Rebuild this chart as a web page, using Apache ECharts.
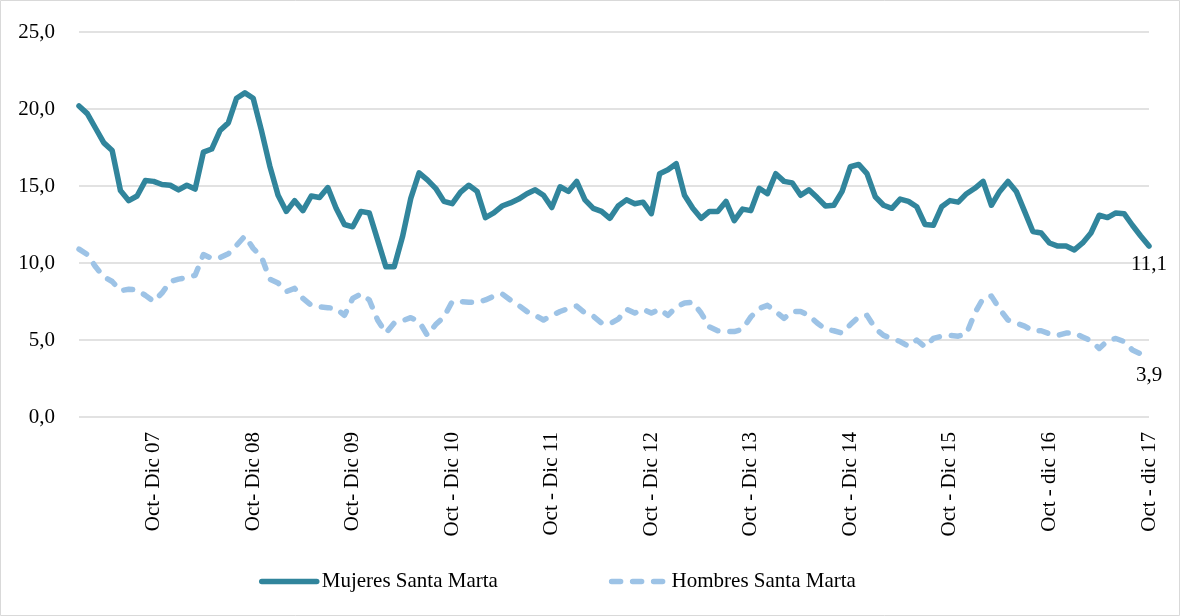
<!DOCTYPE html>
<html>
<head>
<meta charset="utf-8">
<script src="https://cdn.jsdelivr.net/npm/echarts@6/dist/echarts.min.js"></script>
<style>
  html, body { margin: 0; padding: 0; background: #fff; }
  #chart { width: 1180px; height: 616px; }
</style>
</head>
<body>
<div id="chart"></div>
<script>
// Rolling quarters, Ene-Mar 07 .. Oct-Dic 17 (130 points)
var quarterNames = ['Ene - Mar', 'Feb - Abr', 'Mar - May', 'Abr - Jun', 'May - Jul', 'Jun - Ago',
    'Jul - Sep', 'Ago - Oct', 'Sep - Nov', 'Oct - Dic', 'Nov - Ene', 'Dic - Feb'];
var yearSuffixes = ['07', '08', '09', '10', '11', '12', '13', '14', '15', '16', '17'];
// Labels shown under the axis (one per Oct-Dic quarter)
var tickLabels = ['Oct- Dic 07', 'Oct- Dic 08', 'Oct- Dic 09', 'Oct - Dic 10', 'Oct - Dic 11',
    'Oct - Dic 12', 'Oct - Dic 13', 'Oct - Dic 14', 'Oct - Dic 15', 'Oct - dic 16', 'Oct - dic 17'];

var mujeres = [
    20.2, 19.7, 18.75, 17.8, 17.3, 14.7, 14.05, 14.35, 15.35, 15.3, 15.1, 15.05,
    14.75, 15.05, 14.8, 17.2, 17.4, 18.6, 19.1, 20.7, 21.05, 20.7, 18.6, 16.3,
    14.4, 13.35, 14.05, 13.4, 14.35, 14.25, 14.9, 13.55, 12.5, 12.35, 13.35, 13.25,
    11.5, 9.75, 9.75, 11.7, 14.2, 15.85, 15.4, 14.85, 14.0, 13.85, 14.6, 15.05,
    14.65, 12.95, 13.25, 13.7, 13.9, 14.15, 14.5, 14.75, 14.4, 13.6, 14.95, 14.65,
    15.3, 14.1, 13.55, 13.35, 12.9, 13.7, 14.1, 13.85, 13.95, 13.2, 15.8, 16.05,
    16.45, 14.4, 13.55, 12.9, 13.35, 13.35, 14.0, 12.75, 13.5, 13.4, 14.85, 14.5,
    15.8, 15.3, 15.2, 14.4, 14.75, 14.25, 13.7, 13.75, 14.65, 16.25, 16.4, 15.8,
    14.3, 13.75, 13.55, 14.15, 14.0, 13.65, 12.5, 12.45, 13.65, 14.05, 13.95, 14.5,
    14.85, 15.3, 13.75, 14.65, 15.3, 14.65, 13.35, 12.05, 11.95, 11.3, 11.1, 11.1,
    10.85, 11.3, 11.95, 13.1, 12.95, 13.25, 13.2, 12.45, 11.75, 11.1
];

var hombres = [
    10.9, 10.55, 9.75, 9.1, 8.8, 8.2, 8.3, 8.25, 7.9, 7.5, 8.05, 8.8,
    8.95, 9.05, 9.2, 10.55, 10.3, 10.35, 10.6, 11.15, 11.75, 10.95, 10.4, 8.95,
    8.7, 8.15, 8.35, 7.7, 7.25, 7.15, 7.1, 7.05, 6.6, 7.7, 8.0, 7.6,
    6.3, 5.45, 6.1, 6.25, 6.45, 6.2, 5.3, 6.0, 6.5, 7.5, 7.5, 7.45,
    7.45, 7.6, 7.85, 8.0, 7.6, 7.25, 6.85, 6.6, 6.3, 6.6, 6.85, 7.05,
    7.2, 6.75, 6.55, 6.1, 6.05, 6.35, 7.0, 6.75, 7.0, 6.75, 7.0, 6.6,
    7.15, 7.4, 7.45, 6.75, 5.85, 5.6, 5.55, 5.55, 5.7, 6.5, 7.05, 7.25,
    6.85, 6.4, 6.85, 6.85, 6.6, 6.1, 5.7, 5.6, 5.45, 6.0, 6.5, 6.6,
    5.75, 5.3, 5.1, 4.9, 4.6, 5.0, 4.55, 5.1, 5.25, 5.3, 5.25, 5.4,
    6.75, 7.7, 7.85, 7.0, 6.3, 6.1, 5.9, 5.6, 5.6, 5.4, 5.3, 5.45,
    5.45, 5.2, 4.95, 4.45, 4.95, 5.1, 4.9, 4.35, 4.1, 3.9
];

var fontFamily = '"Palatino Linotype", "Book Antiqua", Palatino, "Liberation Serif", serif';

// Category names; the Oct-Dic quarters take their printed label
var categories = mujeres.map(function (v, i) {
    var q = i % 12;
    var y = Math.floor(i / 12);
    if (q === 9) return tickLabels[y];
    return quarterNames[q] + ' ' + yearSuffixes[y];
});

function commaFmt(v) {
    return Number(v).toFixed(1).replace('.', ',');
}

// Value label under the last point of a series
function endValueLabel() {
    return {
        show: true,
        formatter: function (p) { return commaFmt(p.value); },
        color: '#000',
        fontFamily: fontFamily,
        fontSize: 21,
        align: 'center',
        verticalAlign: 'top',
        distance: 0,
        offset: [0, 8]
    };
}

var chart = echarts.init(document.getElementById('chart'));

chart.setOption({
    animation: false,
    backgroundColor: '#fff',
    textStyle: { fontFamily: fontFamily },
    grid: {
        left: 79,
        right: 31,
        top: 32,
        bottom: 199,
        containLabel: false
    },
    graphic: [
        {
            type: 'rect',
            shape: { x: 0.5, y: 0.5, width: 1179, height: 615 },
            style: { fill: null, stroke: '#d9d9d9', lineWidth: 1 },
            silent: true
        }
    ],
    legend: {
        left: 254,
        top: 566,
        itemWidth: 55,
        itemHeight: 14,
        itemGap: 111,
        itemStyle: { opacity: 0 },
        lineStyle: { width: 5.5, cap: 'round' },
        textStyle: {
            color: '#000',
            fontFamily: fontFamily,
            fontSize: 21
        },
        data: ['Mujeres Santa Marta', 'Hombres Santa Marta']
    },
    xAxis: {
        type: 'category',
        boundaryGap: false,
        data: categories,
        axisLine: { show: false },
        axisTick: { show: false },
        splitLine: { show: false },
        axisLabel: {
            rotate: 90,
            margin: 15,
            color: '#000',
            fontFamily: fontFamily,
            fontSize: 21,
            interval: function (index) {
                return index % 12 === 9;
            }
        }
    },
    yAxis: {
        type: 'value',
        min: 0,
        max: 25,
        interval: 5,
        axisLine: { show: false },
        axisTick: { show: false },
        splitLine: {
            show: true,
            lineStyle: { color: '#d9d9d9', width: 1.5 }
        },
        axisLabel: {
            margin: 24,
            color: '#000',
            fontFamily: fontFamily,
            fontSize: 21,
            formatter: commaFmt
        }
    },
    series: [
        {
            name: 'Mujeres Santa Marta',
            type: 'line',
            data: mujeres,
            symbol: 'none',
            color: '#31859c',
            lineStyle: {
                color: '#31859c',
                width: 5.5,
                cap: 'round',
                join: 'round'
            },
            endLabel: endValueLabel(),
            z: 3
        },
        {
            name: 'Hombres Santa Marta',
            type: 'line',
            data: hombres,
            symbol: 'none',
            color: '#9dc3e6',
            lineStyle: {
                color: '#9dc3e6',
                width: 5.5,
                type: [9, 12],
                cap: 'round',
                join: 'round'
            },
            endLabel: endValueLabel(),
            z: 2
        }
    ]
});
</script>
</body>
</html>
